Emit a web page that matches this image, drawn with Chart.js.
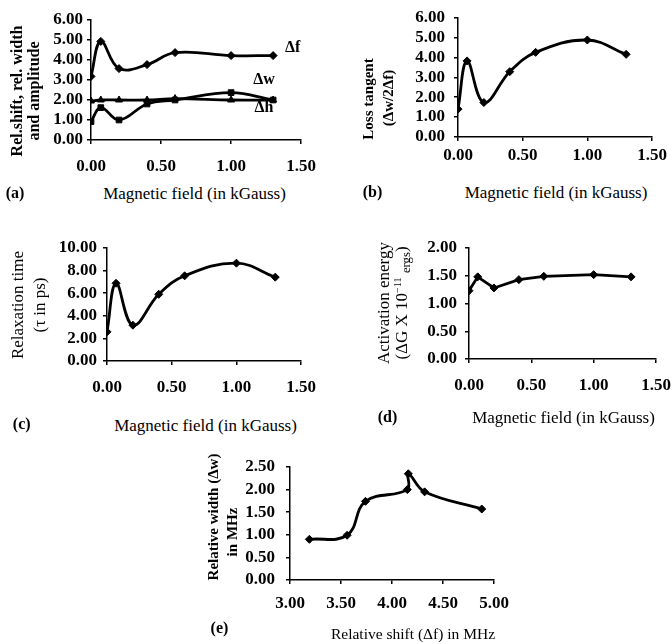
<!DOCTYPE html>
<html>
<head>
<meta charset="utf-8">
<script src="https://cdn.jsdelivr.net/npm/chart.js@4/dist/chart.umd.min.js"></script>
<style>
  html, body { margin: 0; padding: 0; background: #fff; overflow: hidden; }
  #page { position: relative; width: 671px; height: 644px; overflow: hidden; background: #fff; }
  #page canvas { position: absolute; }
  .txt {
    position: absolute;
    white-space: nowrap;
    font-family: "Liberation Serif", "Times New Roman", serif;
    color: #000;
    line-height: 1;
    transform: translate(-50%, -50%);
  }
  .rot { transform: translate(-50%, -50%) rotate(-90deg); }
  .txt sup { font-size: 0.6em; vertical-align: 0.6em; }
  .txt sub { font-size: 0.75em; vertical-align: -0.25em; }
</style>
</head>
<body>
<div id="page"></div>
<script>
// Data
const fieldKG = [0, 0.07, 0.2, 0.4, 0.6, 1.0, 1.3];
const relShift = [3.18, 4.93, 3.57, 3.77, 4.37, 4.22, 4.22];
const relWidth = [0.92, 1.62, 1.0, 1.8, 2.0, 2.37, 2.0];
const relAmp = [1.95, 2.0, 2.0, 2.0, 2.07, 2.0, 2.0];
const lossTangent = [1.4, 3.82, 1.73, 3.28, 4.25, 4.87, 4.15];
const relaxTime = [2.58, 6.88, 3.17, 5.9, 7.54, 8.66, 7.42];
const activationEnergy = [1.23, 1.48, 1.28, 1.43, 1.49, 1.52, 1.48];
const shiftE = [3.19, 3.56, 3.74, 4.15, 4.16, 4.32, 4.88];
const widthE = [0.9, 0.99, 1.74, 2.0, 2.35, 1.95, 1.57];

// Series labels written inside panel (a)
const noteText = ["Δf", "Δw", "Δh"];
const noteX = [1.44, 1.235, 1.235];
const noteY = [4.6, 3.0, 1.6];

const SERIF = "'Liberation Serif', 'Times New Roman', serif";
const page = document.getElementById("page");

const toPoints = (xs, ys) => xs.map((x, i) => ({ x: x, y: ys[i] }));

const addText = (html, x, y, size, bold, rotated) => {
  const d = document.createElement("div");
  d.className = rotated ? "txt rot" : "txt";
  d.style.left = x + "px";
  d.style.top = y + "px";
  d.style.fontSize = size + "px";
  d.style.fontWeight = bold ? "bold" : "normal";
  d.innerHTML = html;
  page.appendChild(d);
};

const series = (xs, ys, style, tension) => ({
  data: toPoints(xs, ys),
  borderColor: "#000",
  backgroundColor: "#000",
  borderWidth: 2.8,
  pointStyle: style,
  pointRadius: 4,
  pointBorderWidth: 1,
  tension: tension,
  fill: false,
});

const axis = (min, max, step, pad, fit) => ({
  type: "linear",
  min: min,
  max: max,
  ticks: {
    stepSize: step,
    autoSkip: false,
    maxRotation: 0,
    color: "#000",
    padding: pad,
    font: { family: SERIF, size: 17, weight: "bold", lineHeight: 1 },
    callback: (v) => Number(v).toFixed(2),
  },
  grid: {
    drawOnChartArea: false,
    drawTicks: true,
    tickLength: 4,
    color: "#000",
    lineWidth: 1.5,
  },
  border: { display: true, color: "#000", width: 1.5 },
  afterFit: fit,
});

// draws the Δf / Δw / Δh labels of panel (a)
const notesPlugin = {
  id: "notes",
  afterDatasetsDraw(chart) {
    const { ctx, scales } = chart;
    ctx.save();
    ctx.fillStyle = "#000";
    ctx.font = "bold 16px " + SERIF;
    ctx.textAlign = "center";
    ctx.textBaseline = "middle";
    noteText.forEach((t, i) => {
      ctx.fillText(t, scales.x.getPixelForValue(noteX[i]), scales.y.getPixelForValue(noteY[i]));
    });
    ctx.restore();
  },
};

// one canvas per panel; yw / xh fix the axis boxes so the plot area lands where wanted
const makePanel = (p) => {
  const canvas = document.createElement("canvas");
  canvas.width = p.w;
  canvas.height = p.h;
  canvas.style.left = p.left + "px";
  canvas.style.top = p.top + "px";
  canvas.style.width = p.w + "px";
  canvas.style.height = p.h + "px";
  page.appendChild(canvas);

  return new Chart(canvas.getContext("2d"), {
    type: "line",
    data: { datasets: p.datasets },
    options: {
      responsive: false,
      animation: false,
      layout: { padding: { top: p.padTop, right: p.padRight, left: 0, bottom: 0 } },
      plugins: { legend: { display: false }, tooltip: { enabled: false } },
      scales: {
        x: axis(p.xMin, p.xMax, 0.5, p.xPad, (s) => { s.height = p.xh; }),
        y: axis(0, p.yMax, p.yStep, p.yPad, (s) => { s.width = p.yw; }),
      },
    },
    plugins: p.plugins || [],
  });
};

// (a)
makePanel({
  left: 0, top: 0, w: 330, h: 180, padTop: 20, padRight: 28, yw: 91, xh: 40,
  xMin: 0, xMax: 1.5, yMax: 6, yStep: 1, xPad: 14, yPad: 4,
  datasets: [
    series(fieldKG, relShift, "rectRot", 0.4),
    series(fieldKG, relAmp, "triangle", 0.4),
    series(fieldKG, relWidth, "rect", 0.4),
  ],
  plugins: [notesPlugin],
});

// (b)
makePanel({
  left: 345, top: 0, w: 340, h: 180, padTop: 17, padRight: 33, yw: 113, xh: 43,
  xMin: 0, xMax: 1.5, yMax: 6, yStep: 1, xPad: 6, yPad: 9,
  datasets: [series(fieldKG, lossTangent, "rectRot", 0.4)],
});

// (c)
makePanel({
  left: 0, top: 228, w: 330, h: 180, padTop: 20, padRight: 27, yw: 107, xh: 47,
  xMin: 0, xMax: 1.5, yMax: 10, yStep: 2, xPad: 14, yPad: 6,
  datasets: [series(fieldKG, relaxTime, "rectRot", 0.4)],
});

// (d)
makePanel({
  left: 345, top: 228, w: 340, h: 180, padTop: 20, padRight: 29, yw: 124, xh: 49,
  xMin: 0, xMax: 1.5, yMax: 2, yStep: 0.5, xPad: 14, yPad: 8,
  datasets: [series(fieldKG, activationEnergy, "rectRot", 0)],
});

// (e)
makePanel({
  left: 180, top: 446, w: 340, h: 180, padTop: 21, padRight: 26, yw: 110, xh: 46,
  xMin: 3, xMax: 5, yMax: 2.5, yStep: 0.5, xPad: 11, yPad: 11,
  datasets: [series(shiftE, widthE, "rectRot", 0.4)],
});

// axis titles and panel letters
addText("Rel.shift, rel. width", 16.7, 90.5, 16, true, true);
addText("and amplitude", 34, 91, 16, true, true);
addText("Magnetic field (in kGauss)", 194.5, 192.7, 17, false, false);
addText("(a)", 15, 193, 16, true, false);

addText("Loss tangent", 368.3, 98.5, 15, true, true);
addText("(Δw/2Δf)", 388, 97.5, 15, true, true);
addText("Magnetic field (in kGauss)", 556, 192.3, 17, false, false);
addText("(b)", 372.5, 192, 16, true, false);

addText("Relaxation time", 16.7, 305, 17, false, true);
addText("(τ in ps)", 39.3, 305, 17, false, true);
addText("Magnetic field (in kGauss)", 205.5, 425, 17, false, false);
addText("(c)", 21.7, 424, 16, true, false);

addText("Activation energy", 383.3, 303, 17, false, true);
addText("(ΔG X 10<sup>−11</sup> <sub>ergs</sub>)", 403.3, 303, 17, false, true);
addText("Magnetic field (in kGauss)", 563.5, 417, 17, false, false);
addText("(d)", 387.5, 417, 16, true, false);

addText("Relative width (Δw)", 213, 517, 15, true, true);
addText("in MHz", 232, 532, 15, true, true);
addText("Relative shift (Δf) in MHz", 413, 634, 15.5, false, false);
addText("(e)", 219.5, 628, 16, true, false);
</script>
</body>
</html>
